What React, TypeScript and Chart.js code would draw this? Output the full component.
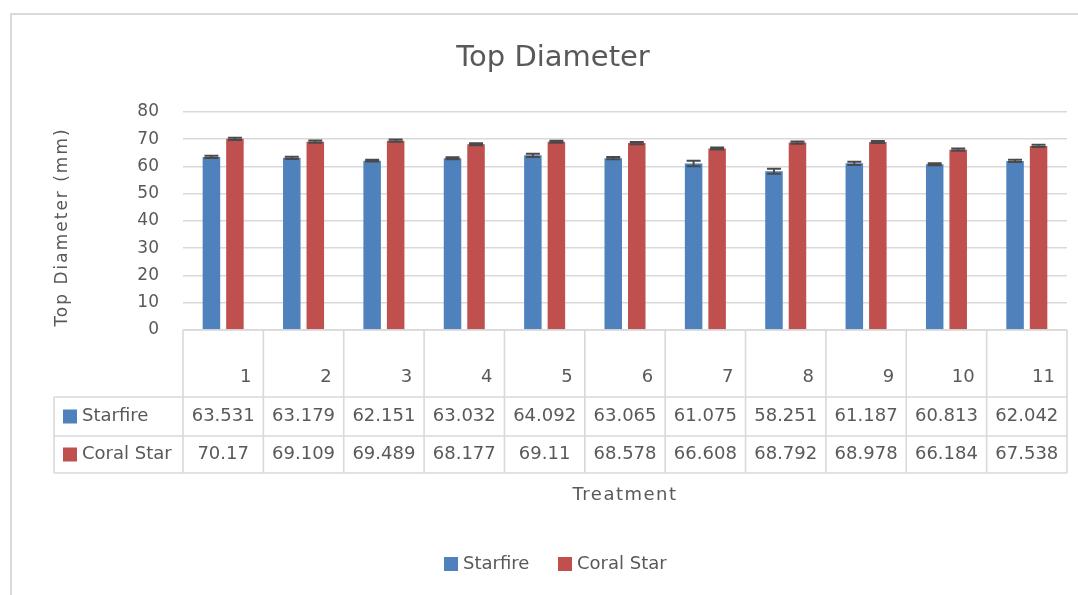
import React, { useEffect, useRef } from "react";
import { Chart, registerables } from "chart.js";

Chart.register(...registerables);

// ---------- data ----------
const categories = ["1", "2", "3", "4", "5", "6", "7", "8", "9", "10", "11"];
const seriesNames = ["Starfire", "Coral Star"];
const starfire = [63.531, 63.179, 62.151, 63.032, 64.092, 63.065, 61.075, 58.251, 61.187, 60.813, 62.042];
const coralStar = [70.17, 69.109, 69.489, 68.177, 69.11, 68.578, 66.608, 68.792, 68.978, 66.184, 67.538];
const starfireErr = [0.4, 0.4, 0.35, 0.4, 0.6, 0.4, 1.0, 0.9, 0.6, 0.35, 0.4];
const coralErr = [0.4, 0.4, 0.4, 0.4, 0.35, 0.4, 0.4, 0.4, 0.4, 0.4, 0.4];
const yMin = 0;
const yMax = 80;
const yStep = 10;
const chartTitle = "Top Diameter";
const yTitle = "Top Diameter (mm)";
const xTitle = "Treatment";

const seriesValues = [starfire, coralStar];
const seriesErrors = [starfireErr, coralErr];
const seriesColors = ["#4F81BD", "#C0504D"];

const FONT = '"DejaVu Sans", sans-serif';
const TEXT = "#595959";
const LINE = "#D9D9D9";

const decorPlugin = {
  id: "excelDecor",
  beforeDraw(chart: any) {
    const ctx = chart.ctx;
    ctx.save();
    ctx.fillStyle = "#ffffff";
    ctx.fillRect(0, 0, chart.width, chart.height);
    ctx.strokeStyle = LINE;
    ctx.lineWidth = 2;
    ctx.beginPath();
    ctx.moveTo(11, chart.height);
    ctx.lineTo(11, 14);
    ctx.lineTo(chart.width, 14);
    ctx.stroke();
    ctx.restore();
  },
  afterDatasetsDraw(chart: any) {
    const ctx = chart.ctx;
    const yScale = chart.scales.y;
    ctx.save();
    ctx.strokeStyle = "#4a4a4a";
    ctx.lineWidth = 2;
    seriesValues.forEach((vals, d) => {
      const meta = chart.getDatasetMeta(d);
      meta.data.forEach((el: any, i: number) => {
        const v = vals[i];
        const e = seriesErrors[d][i];
        const yHi = yScale.getPixelForValue(v + e);
        const yLo = yScale.getPixelForValue(v - e);
        const cap = 7;
        ctx.beginPath();
        ctx.moveTo(el.x, yLo);
        ctx.lineTo(el.x, yHi);
        ctx.moveTo(el.x - cap, yHi);
        ctx.lineTo(el.x + cap, yHi);
        ctx.moveTo(el.x - cap, yLo);
        ctx.lineTo(el.x + cap, yLo);
        ctx.stroke();
      });
    });
    ctx.restore();
  },
  afterDraw(chart: any) {
    const ctx = chart.ctx;
    const xScale = chart.scales.x;
    const area = chart.chartArea;
    const n = categories.length;
    const catW = (area.right - area.left) / n;
    const top = area.bottom;
    const headerBottom = top + 67;
    const row1Bottom = headerBottom + 39;
    const row2Bottom = row1Bottom + 37;
    const legendLeft = 54;

    ctx.save();
    // table grid
    ctx.strokeStyle = LINE;
    ctx.lineWidth = 1.6;
    ctx.beginPath();
    ctx.moveTo(area.left, top);
    ctx.lineTo(area.right, top);
    [headerBottom, row1Bottom, row2Bottom].forEach((y) => {
      ctx.moveTo(legendLeft, y);
      ctx.lineTo(area.right, y);
    });
    for (let i = 0; i <= n; i++) {
      const x = i < n ? xScale.getPixelForValue(i) - catW / 2 : area.right;
      ctx.moveTo(x, top);
      ctx.lineTo(x, row2Bottom);
    }
    ctx.moveTo(legendLeft, headerBottom);
    ctx.lineTo(legendLeft, row2Bottom);
    ctx.stroke();

    // header labels
    ctx.fillStyle = TEXT;
    ctx.font = `18px ${FONT}`;
    ctx.textBaseline = "middle";
    ctx.textAlign = "right";
    categories.forEach((c, i) => {
      const right = xScale.getPixelForValue(i) + catW / 2;
      ctx.fillText(c, right - 12, top + 47);
    });

    // values
    ctx.textAlign = "center";
    const rowCenters = [(headerBottom + row1Bottom) / 2, (row1Bottom + row2Bottom) / 2];
    seriesValues.forEach((vals, d) => {
      vals.forEach((v, i) => {
        ctx.fillText(String(v), xScale.getPixelForValue(i), rowCenters[d]);
      });
    });

    // legend keys in table
    ctx.textAlign = "left";
    seriesNames.forEach((name, d) => {
      const cy = rowCenters[d];
      ctx.fillStyle = seriesColors[d];
      ctx.fillRect(63, cy - 7, 14, 14);
      ctx.fillStyle = TEXT;
      ctx.fillText(name, 82, cy);
    });

    // bottom legend
    const ly = 564;
    const legendX = [444, 558];
    seriesNames.forEach((name, d) => {
      ctx.fillStyle = seriesColors[d];
      ctx.fillRect(legendX[d], ly - 7, 14, 14);
      ctx.fillStyle = TEXT;
      ctx.fillText(name, legendX[d] + 19, ly);
    });

    // chart title
    ctx.textAlign = "center";
    ctx.font = `29px ${FONT}`;
    ctx.fillText(chartTitle, 553, 58);

    // x title
    ctx.font = `18px ${FONT}`;
    (ctx as any).letterSpacing = "1.5px";
    ctx.fillText(xTitle, (area.left + area.right) / 2, 495);

    // y title
    (ctx as any).letterSpacing = "2px";
    ctx.font = `17px ${FONT}`;
    ctx.translate(63, 227);
    ctx.rotate(-Math.PI / 2);
    ctx.fillText(yTitle, 0, 0);
    ctx.restore();
  },
};

export default function App() {
  const ref = useRef<HTMLCanvasElement | null>(null);

  useEffect(() => {
    if (!ref.current) return;
    const chart = new Chart(ref.current, {
      type: "bar",
      data: {
        labels: categories,
        datasets: seriesNames.map((name, d) => ({
          label: name,
          data: seriesValues[d],
          backgroundColor: seriesColors[d],
          borderWidth: 0,
          categoryPercentage: 0.585,
          barPercentage: 0.745,
        })),
      },
      options: {
        animation: false,
        responsive: false,
        layout: { padding: { left: 0, top: 112, right: 11, bottom: 265 } },
        plugins: {
          legend: { display: false },
          title: { display: false },
          tooltip: { enabled: false },
        },
        scales: {
          x: {
            grid: { display: false },
            border: { display: false },
            ticks: { display: false },
            afterFit: (s: any) => {
              s.height = 0;
            },
          },
          y: {
            min: yMin,
            max: yMax,
            ticks: {
              stepSize: yStep,
              padding: 24,
              color: TEXT,
              font: { family: FONT, size: 17 },
            },
            grid: { color: LINE, lineWidth: 1.6, drawTicks: false },
            border: { display: false },
            afterFit: (s: any) => {
              s.width = 183;
            },
          },
        },
      },
      plugins: [decorPlugin],
    } as any);
    return () => chart.destroy();
  }, []);

  return (
    <div style={{ position: "fixed", left: 0, top: 0, width: 1078, height: 595, background: "#fff" }}>
      <canvas ref={ref} width={1078} height={595} style={{ display: "block", width: 1078, height: 595 }} />
    </div>
  );
}
